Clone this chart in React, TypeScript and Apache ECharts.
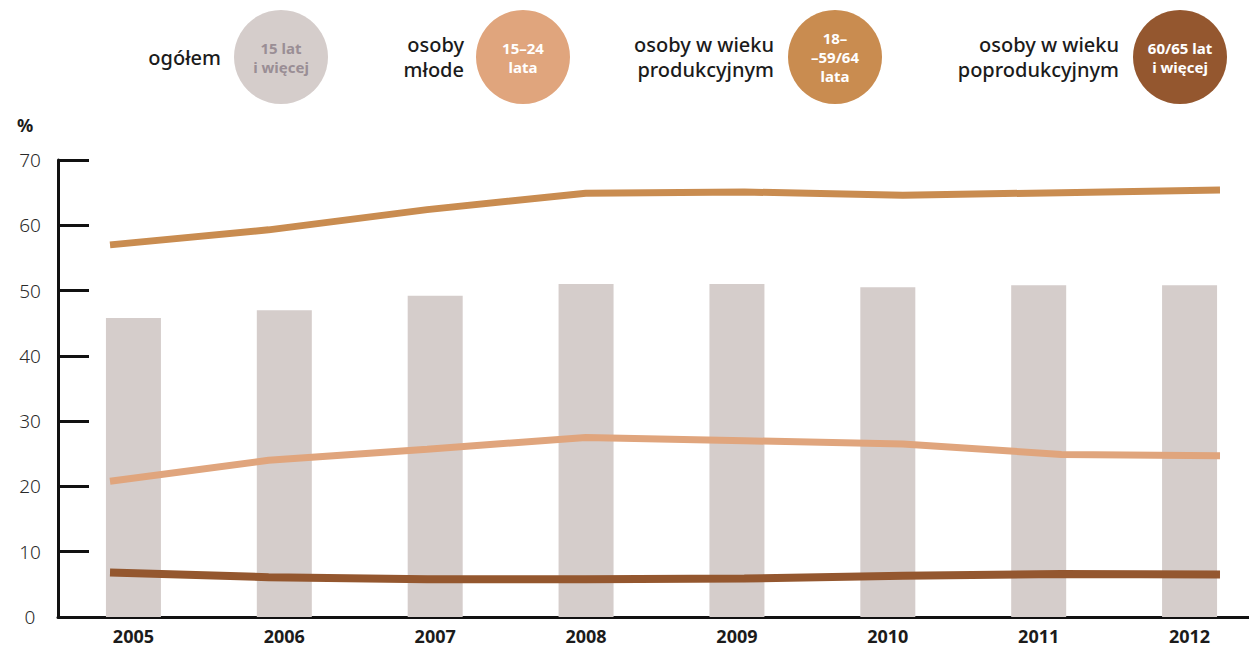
import React, { useEffect, useRef } from "react";
import * as echarts from "echarts";

const years = ["2005", "2006", "2007", "2008", "2009", "2010", "2011", "2012"];
const totalBars = [45.8, 47.0, 49.2, 51.0, 51.0, 50.5, 50.8, 50.8];
const young = [20.8, 24.0, 25.7, 27.5, 27.0, 26.5, 24.9, 24.7];
const working = [57.0, 59.3, 62.4, 64.9, 65.1, 64.6, 65.0, 65.4];
const elderly = [6.8, 6.1, 5.8, 5.8, 5.9, 6.3, 6.6, 6.5];
const yTicks = [0, 10, 20, 30, 40, 50, 60, 70];

const C_TOTAL = "#d5cdcb";
const C_YOUNG = "#e0a57d";
const C_WORK = "#c98c50";
const C_OLD = "#94572f";

const FONT = "'Noto Sans', 'Open Sans', sans-serif";

export default function App() {
  const ref = useRef<HTMLDivElement>(null);
  useEffect(() => {
    if (!ref.current) return;
    const chart = echarts.init(ref.current, null, { renderer: "svg" });
    const legendLabel = (x: number, lines: string[]) => {
      const lh = 25;
      const y0 = 57 - ((lines.length - 1) * lh) / 2;
      return lines.map((t, i) => ({
        type: "text",
        x,
        y: y0 + i * lh,
        style: {
          text: t,
          fill: "#1b1b1b",
          font: `500 20px ${FONT}`,
          lineHeight: 20,
          align: "right",
          verticalAlign: "middle",
        },
      }));
    };
    const badge = (cx: number, color: string, lines: string[], textColor: string) => {
      const lh = 19;
      const y0 = 57 - ((lines.length - 1) * lh) / 2;
      return [
        { type: "circle", shape: { cx, cy: 57, r: 47 }, style: { fill: color } },
        ...lines.map((t, i) => ({
          type: "text",
          x: cx,
          y: y0 + i * lh,
          style: {
            text: t,
            fill: textColor,
            font: `bold 15px ${FONT}`,
            lineHeight: 15,
            align: "center",
            verticalAlign: "middle",
          },
        })),
      ];
    };
    chart.setOption({
      animation: false,
      grid: [
        { left: 58, top: 160, width: 1207, height: 457, outerBoundsMode: "none", containLabel: false },
        { left: 110, top: 160, width: 1110, height: 457, outerBoundsMode: "none", containLabel: false },
      ],
      xAxis: [
        {
          type: "category",
          gridIndex: 0,
          data: years,
          boundaryGap: true,
          axisLine: { lineStyle: { color: "#111", width: 3 } },
          axisTick: { inside: true, length: 17, lineStyle: { color: "#111", width: 2 } },
          axisLabel: {
            color: "#1b1b1b",
            fontSize: 18,
            fontWeight: "bold",
            fontFamily: FONT,
            margin: 10,
          },
          splitLine: { show: false },
        },
        {
          type: "category",
          gridIndex: 1,
          data: years,
          boundaryGap: false,
          show: false,
        },
      ],
      yAxis: [
        {
          type: "value",
          gridIndex: 0,
          min: 0,
          max: 70,
          interval: 10,
          axisLine: { show: true, lineStyle: { color: "#111", width: 3 } },
          axisTick: { show: true, inside: true, length: 31, lineStyle: { color: "#111", width: 3 } },
          axisLabel: {
            color: "#2a2a2a",
            fontSize: 19,
            fontFamily: FONT,
            fontWeight: 300,
            align: "center",
            margin: 28,
            formatter: (v: number) => (yTicks.includes(v) ? String(v) : ""),
          },
          splitLine: { show: false },
        },
        {
          type: "value",
          gridIndex: 1,
          min: 0,
          max: 70,
          interval: 10,
          show: false,
        },
      ],
      graphic: [
        {
          type: "text",
          x: 25,
          y: 125,
          style: { text: "%", fill: "#1b1b1b", font: `bold 18px ${FONT}`, align: "center", verticalAlign: "middle" },
        },
        ...legendLabel(221, ["ogółem"]),
        ...badge(281, C_TOTAL, ["15 lat", "i więcej"], "#9a8e95"),
        ...legendLabel(464, ["osoby", "młode"]),
        ...badge(523, C_YOUNG, ["15–24", "lata"], "#ffffff"),
        ...legendLabel(774, ["osoby w wieku", "produkcyjnym"]),
        ...badge(835, C_WORK, ["18–", "–59/64", "lata"], "#ffffff"),
        ...legendLabel(1119, ["osoby w wieku", "poprodukcyjnym"]),
        ...badge(1180, C_OLD, ["60/65 lat", "i więcej"], "#ffffff"),
      ],
      series: [
        {
          name: "ogółem",
          type: "bar",
          xAxisIndex: 0,
          yAxisIndex: 0,
          data: totalBars,
          barWidth: 55,
          itemStyle: { color: C_TOTAL },
          z: 1,
        },
        {
          name: "osoby w wieku produkcyjnym",
          type: "line",
          xAxisIndex: 1,
          yAxisIndex: 1,
          data: working,
          symbol: "none",
          lineStyle: { color: C_WORK, width: 7, cap: "butt" },
          z: 3,
        },
        {
          name: "osoby młode",
          type: "line",
          xAxisIndex: 1,
          yAxisIndex: 1,
          data: young,
          symbol: "none",
          lineStyle: { color: C_YOUNG, width: 7, cap: "butt" },
          z: 3,
        },
        {
          name: "osoby w wieku poprodukcyjnym",
          type: "line",
          xAxisIndex: 1,
          yAxisIndex: 1,
          data: elderly,
          symbol: "none",
          lineStyle: { color: C_OLD, width: 8, cap: "butt" },
          z: 3,
        },
      ],
    });
    return () => chart.dispose();
  }, []);
  return (
    <div
      ref={ref}
      style={{ position: "fixed", left: 0, top: 0, width: 1249, height: 648, background: "#fff" }}
    />
  );
}
